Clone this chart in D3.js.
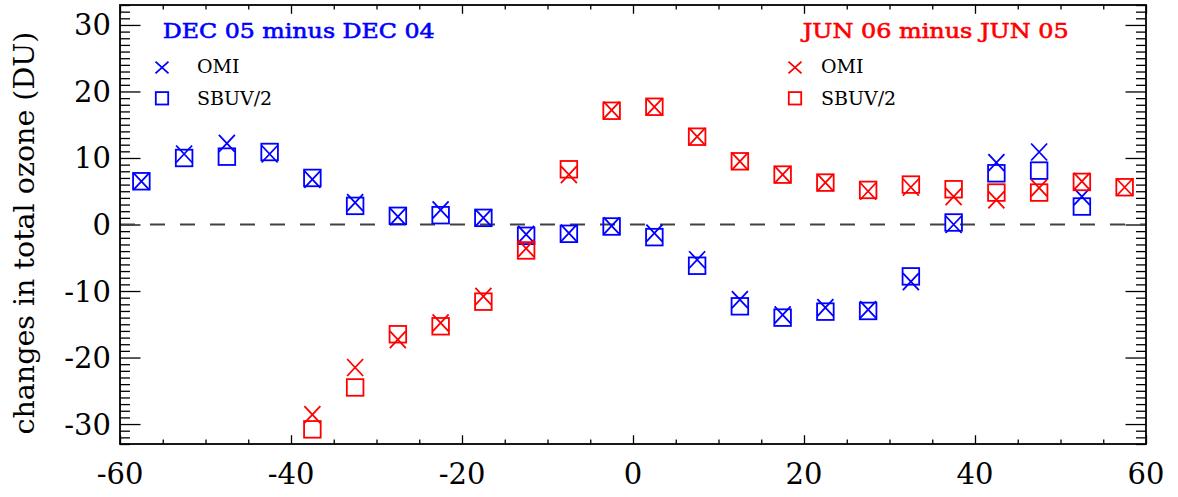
<!DOCTYPE html>
<html><head><meta charset="utf-8">
<script src="https://cdn.jsdelivr.net/npm/d3@7"></script>
<style>body{margin:0;background:#fff}text{font-family:"DejaVu Serif",serif}</style></head>
<body><svg id="c" width="1178" height="497"></svg>
<script>
const decLat = [-57.5,-52.5,-47.5,-42.5,-37.5,-32.5,-27.5,-22.5,-17.5,-12.5,-7.5,-2.5,2.5,7.5,12.5,17.5,22.5,27.5,32.5,37.5,42.5,47.5,52.5];
const decOMI = [6.5,10.6,12.2,10.6,6.8,3.3,1.2,2.2,1.0,-1.5,-1.3,-0.2,-1.3,-5.3,-11.3,-13.6,-12.5,-12.8,-8.6,0.0,9.3,10.9,4.2];
const decSBUV = [6.5,10.0,10.2,10.9,7.0,2.8,1.3,1.4,1.0,-1.7,-1.4,-0.3,-1.9,-6.2,-12.3,-14.0,-13.1,-13.0,-7.8,0.3,7.7,8.1,2.7];
const junLat = [-37.5,-32.5,-27.5,-22.5,-17.5,-12.5,-7.5,-2.5,2.5,7.5,12.5,17.5,22.5,27.5,32.5,37.5,42.5,47.5,52.5,57.5];
const junOMI = [-28.6,-21.5,-17.3,-14.8,-10.8,-3.6,7.5,17.2,17.7,13.2,9.5,7.5,6.3,5.0,5.6,4.2,3.7,5.5,6.5,5.6];
const junSBUV = [-30.8,-24.5,-16.5,-15.3,-11.6,-3.9,8.3,17.1,17.7,13.2,9.5,7.5,6.3,5.2,6.0,5.3,4.8,4.8,6.4,5.6];
const xTicks = [-60,-40,-20,0,20,40,60];
const yTicks = [-30,-20,-10,0,10,20,30];
const yLabel = "changes in total ozone (DU)";
const decTitle = "DEC 05 minus DEC 04";
const junTitle = "JUN 06 minus JUN 05";
const legendNames = ["OMI","SBUV/2"];

const L=120,R=1146,T=5,B=444;
const svg=d3.select("#c");
const x=d3.scaleLinear().domain([-60,60]).range([L,R]);
const y=d3.scaleLinear().domain([-33,33]).range([B,T]);

const minorX=d3.range(-60,60.01,5).filter(v=>v%20!==0);
const minorY=d3.range(-33,33.01,1).filter(v=>v%10!==0);
function ax(gen, ticks, len, tr){
  svg.append("g").attr("transform",tr).call(gen.tickValues(ticks).tickSize(len).tickFormat("")).call(g=>g.select(".domain").remove())
   .selectAll("line").attr("stroke","#000").attr("stroke-width",1.3);
}
ax(d3.axisTop(x),xTicks,8.8,`translate(0,${B})`);
ax(d3.axisTop(x),minorX,4.4,`translate(0,${B})`);
ax(d3.axisBottom(x),xTicks,8.8,`translate(0,${T})`);
ax(d3.axisBottom(x),minorX,4.4,`translate(0,${T})`);
ax(d3.axisRight(y),yTicks,20.5,`translate(${L},0)`);
ax(d3.axisRight(y),minorY,10,`translate(${L},0)`);
ax(d3.axisLeft(y),yTicks,20.5,`translate(${R},0)`);
ax(d3.axisLeft(y),minorY,10,`translate(${R},0)`);

const fs=29;
svg.append("g").selectAll("text").data(xTicks).join("text")
  .attr("x",d=>x(d)).attr("y",484).attr("text-anchor","middle").attr("font-size",fs).text(d=>d);
svg.append("g").selectAll("text").data(yTicks).join("text")
  .attr("x",L-9).attr("y",d=>y(d)+10.5).attr("text-anchor","end").attr("font-size",fs).text(d=>d);

svg.append("text").attr("transform",`translate(34,233) rotate(-90)`).attr("text-anchor","middle")
  .attr("font-size",28.5).text(yLabel);

svg.append("line").attr("x1",L).attr("x2",R).attr("y1",y(0)).attr("y2",y(0))
  .attr("stroke","#404040").attr("stroke-width",2).attr("stroke-dasharray","15,15");

svg.append("rect").attr("x",L).attr("y",T).attr("width",R-L).attr("height",B-T)
  .attr("fill","none").attr("stroke","#000").attr("stroke-width",1.8);

function cross(g,cx,cy,sx,sy,col){
  g.append("path").attr("d",`M${cx-sx},${cy-sy}L${cx+sx},${cy+sy}M${cx-sx},${cy+sy}L${cx+sx},${cy-sy}`)
   .attr("stroke",col).attr("stroke-width",1.8).attr("fill","none");
}
function square(g,cx,cy,s,col){
  g.append("rect").attr("x",cx-s).attr("y",cy-s).attr("width",2*s).attr("height",2*s)
   .attr("stroke",col).attr("stroke-width",1.8).attr("fill","none");
}
const gm=svg.append("g");
function series(lat,omi,sbuv,col){
  lat.forEach((la,i)=>{
    square(gm,x(la),y(sbuv[i]),8.3,col);
    cross(gm,x(la),y(omi[i]),8,8.5,col);
  });
}
series(decLat,decOMI,decSBUV,"#0000ff");
series(junLat,junOMI,junSBUV,"#ff0000");

function legend(x0,tx,title,tw,off,col){
  svg.append("text").attr("x",x0).attr("y",38.3).attr("fill",col).attr("stroke",col).attr("stroke-width",0.6)
    .attr("font-size",21).attr("textLength",tw).attr("lengthAdjust","spacingAndGlyphs").text(title);
  cross(svg,tx,67.5,6.5,5.8,col);
  square(svg,tx,98.3,6.2,col);
  svg.append("text").attr("x",tx+off).attr("y",72.7).attr("font-size",19).text(legendNames[0]);
  svg.append("text").attr("x",tx+off).attr("y",105).attr("font-size",19).text(legendNames[1]);
}
legend(162.7,162,decTitle,272,35,"#0000ff");
legend(802.7,795,junTitle,266,26,"#ff0000");
</script></body></html>
